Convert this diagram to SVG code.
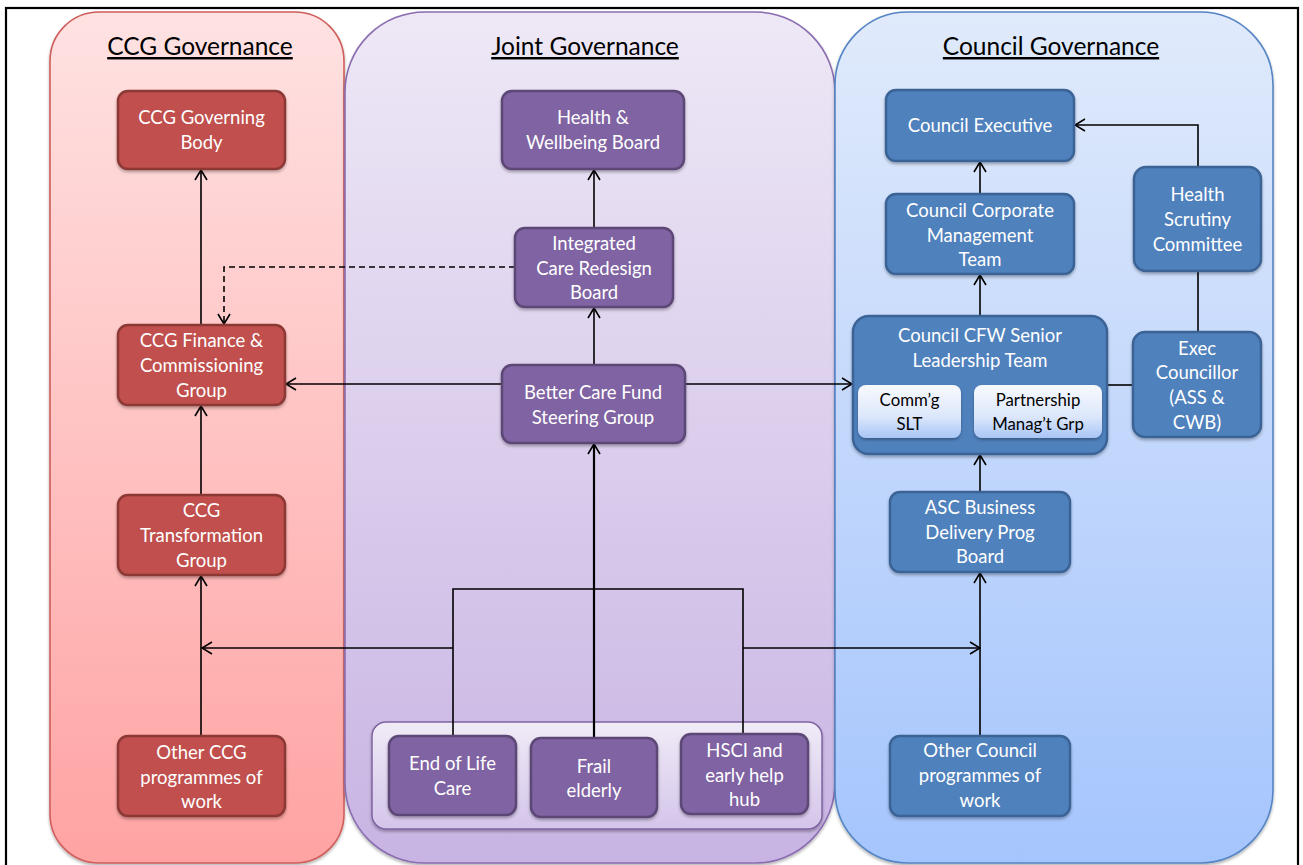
<svg xmlns="http://www.w3.org/2000/svg" width="1303" height="865" viewBox="0 0 1303 865">
<defs>
<linearGradient id="gCcg" x1="0" y1="0" x2="0" y2="1"><stop offset="0" stop-color="#FFE2E2"/><stop offset="1" stop-color="#FFA3A3"/></linearGradient>
<linearGradient id="gJoint" x1="0" y1="0" x2="0" y2="1"><stop offset="0" stop-color="#EEE8F6"/><stop offset="1" stop-color="#C8B4E3"/></linearGradient>
<linearGradient id="gCouncil" x1="0" y1="0" x2="0" y2="1"><stop offset="0" stop-color="#E0EAFB"/><stop offset="1" stop-color="#A5C5FD"/></linearGradient>
<linearGradient id="gTray" x1="0" y1="0" x2="0" y2="1"><stop offset="0" stop-color="#F0EBF7"/><stop offset="1" stop-color="#D4C5EA"/></linearGradient>
<linearGradient id="gSub" x1="0" y1="0" x2="0" y2="1"><stop offset="0" stop-color="#F7F9FE"/><stop offset="0.6" stop-color="#DCE7FB"/><stop offset="1" stop-color="#A9C6F6"/></linearGradient>
<filter id="sh" x="-10%" y="-10%" width="120%" height="130%"><feDropShadow dx="0" dy="2" stdDeviation="1.5" flood-color="#000" flood-opacity="0.3"/></filter>
<marker id="arr" viewBox="0 0 12 14" refX="11" refY="7" markerWidth="12" markerHeight="14" markerUnits="userSpaceOnUse" orient="auto">
<path d="M1,1 L11,7 L1,13" fill="none" stroke="#000" stroke-width="1.6"/>
</marker>
<style>
.panel{stroke-width:1.6;filter:url(#sh)}
.title{font-family:Lato,"Open Sans",sans-serif;font-size:24.5px;fill:#000;text-anchor:middle;text-decoration:underline}
.n rect{stroke-width:2.5;filter:url(#sh)}
.red rect{fill:#C0504D;stroke:#8C3836}
.pur rect{fill:#8064A2;stroke:#5C4776}
.blu rect{fill:#4F81BD;stroke:#3A6395}
.n text{font-family:Lato,"Open Sans",sans-serif;font-size:18.5px;fill:#fff;text-anchor:middle}
.sub rect{fill:url(#gSub);stroke:none;filter:url(#sh)}
.sub text{font-family:Lato,"Open Sans",sans-serif;font-size:16.8px;fill:#000;text-anchor:middle}
.c path{fill:none;stroke:#000;stroke-width:1.6}
</style>
</defs>
<rect x="6" y="8" width="1292" height="880" fill="#fff" stroke="#000" stroke-width="2.2"/>

<g id="panels">
<rect class="panel" x="50" y="12" width="294" height="851" rx="49" fill="url(#gCcg)" stroke="#CF5E5B"/>
<rect class="panel" x="345" y="12" width="490" height="851" rx="80" fill="url(#gJoint)" stroke="#8A6DB0"/>
<rect class="panel" x="835" y="12" width="438" height="851" rx="73" fill="url(#gCouncil)" stroke="#5585C4"/>
<text class="title" x="200" y="55">CCG Governance</text>
<text class="title" x="585" y="55">Joint Governance</text>
<text class="title" x="1051" y="55">Council Governance</text>
<rect x="372" y="722" width="450" height="107" rx="14" fill="url(#gTray)" stroke="#8064A2" stroke-width="1.5" filter="url(#sh)"/>
</g>

<g id="connectors" class="c">
<path d="M201,325 V170" marker-end="url(#arr)"/>
<path d="M201,495 V406" marker-end="url(#arr)"/>
<path d="M201,736 V576" marker-end="url(#arr)"/>
<path d="M515,267 H224 V324" stroke-dasharray="6,4" marker-end="url(#arr)"/>
<path d="M594,228 V170" marker-end="url(#arr)"/>
<path d="M594,365 V308" marker-end="url(#arr)"/>
<path d="M502,384 H286" marker-end="url(#arr)"/>
<path d="M685,384 H852" marker-end="url(#arr)"/>
<path d="M594,738 V444" style="stroke-width:2.2" marker-end="url(#arr)"/>
<path d="M453,736 V589 H743 V734"/>
<path d="M453,648 H202" marker-end="url(#arr)"/>
<path d="M743,648 H980" marker-end="url(#arr)"/>
<path d="M980,736 V573" marker-end="url(#arr)"/>
<path d="M980,492 V455" marker-end="url(#arr)"/>
<path d="M980,316 V275" marker-end="url(#arr)"/>
<path d="M980,194 V162" marker-end="url(#arr)"/>
<path d="M1198,167 V125 H1075" marker-end="url(#arr)"/>
<path d="M1198,332 V271"/>
<path d="M1107,385 H1133"/>
</g>

<g id="ccg-governing-body" class="n red"><rect x="118" y="91" width="167" height="78" rx="10"/><text x="201.5" y="124">CCG Governing</text><text x="201.5" y="149">Body</text></g>
<g id="ccg-finance" class="n red"><rect x="118" y="325" width="167" height="80" rx="10"/><text x="201.5" y="347">CCG Finance &amp;</text><text x="201.5" y="372">Commissioning</text><text x="201.5" y="397">Group</text></g>
<g id="ccg-transformation" class="n red"><rect x="118" y="495" width="167" height="80" rx="10"/><text x="201.5" y="516.5">CCG</text><text x="201.5" y="541.5">Transformation</text><text x="201.5" y="566.5">Group</text></g>
<g id="ccg-other" class="n red"><rect x="118" y="736" width="167" height="80" rx="10"/><text x="201.5" y="758.5">Other CCG</text><text x="201.5" y="783.5">programmes of</text><text x="201.5" y="807.5">work</text></g>

<g id="health-wellbeing-board" class="n pur"><rect x="502" y="91" width="182" height="78" rx="10"/><text x="593" y="124">Health &amp;</text><text x="593" y="149">Wellbeing Board</text></g>
<g id="integrated-care-redesign-board" class="n pur"><rect x="515" y="228" width="158" height="79" rx="10"/><text x="594" y="249.5">Integrated</text><text x="594" y="274.5">Care Redesign</text><text x="594" y="298.5">Board</text></g>
<g id="better-care-fund" class="n pur"><rect x="502" y="365" width="183" height="78" rx="10"/><text x="593" y="398.5">Better Care Fund</text><text x="593" y="423.5">Steering Group</text></g>
<g id="end-of-life-care" class="n pur"><rect x="389" y="736" width="127" height="79" rx="10"/><text x="452.5" y="769.5">End of Life</text><text x="452.5" y="794.5">Care</text></g>
<g id="frail-elderly" class="n pur"><rect x="531" y="738" width="126" height="79" rx="10"/><text x="594" y="772.5">Frail</text><text x="594" y="796.5">elderly</text></g>
<g id="hsci-hub" class="n pur"><rect x="681" y="734" width="127" height="80" rx="10"/><text x="744.5" y="756.5">HSCI and</text><text x="744.5" y="781.5">early help</text><text x="744.5" y="805.5">hub</text></g>

<g id="council-executive" class="n blu"><rect x="886" y="90" width="188" height="71" rx="10"/><text x="980" y="131.5">Council Executive</text></g>
<g id="council-cmt" class="n blu"><rect x="886" y="194" width="188" height="80" rx="10"/><text x="980" y="216.5">Council Corporate</text><text x="980" y="241.5">Management</text><text x="980" y="265.5">Team</text></g>
<g id="health-scrutiny" class="n blu"><rect x="1134" y="167" width="127" height="104" rx="12"/><text x="1197.5" y="200.5">Health</text><text x="1197.5" y="225.5">Scrutiny</text><text x="1197.5" y="250.5">Committee</text></g>
<g id="council-cfw-slt" class="n blu"><rect x="853" y="316" width="254" height="138" rx="16"/><text x="980" y="341.5">Council CFW Senior</text><text x="980" y="366.5">Leadership Team</text></g>
<g id="commg-slt" class="sub"><rect x="858" y="385" width="103" height="53" rx="8"/><text x="909.5" y="406">Comm’g</text><text x="909.5" y="430">SLT</text></g>
<g id="partnership-mgmt" class="sub"><rect x="974" y="385" width="128" height="53" rx="8"/><text x="1038" y="406">Partnership</text><text x="1038" y="430">Manag’t Grp</text></g>
<g id="exec-councillor" class="n blu"><rect x="1133" y="332" width="128" height="105" rx="12"/><text x="1197" y="354.5">Exec</text><text x="1197" y="378.5">Councillor</text><text x="1197" y="403.5">(ASS &amp;</text><text x="1197" y="428.5">CWB)</text></g>
<g id="asc-business-delivery" class="n blu"><rect x="890" y="492" width="180" height="80" rx="10"/><text x="980" y="513.5">ASC Business</text><text x="980" y="538.5">Delivery Prog</text><text x="980" y="562.5">Board</text></g>
<g id="council-other" class="n blu"><rect x="890" y="736" width="180" height="80" rx="10"/><text x="980" y="756.5">Other Council</text><text x="980" y="781.5">programmes of</text><text x="980" y="806.5">work</text></g>
</svg>
